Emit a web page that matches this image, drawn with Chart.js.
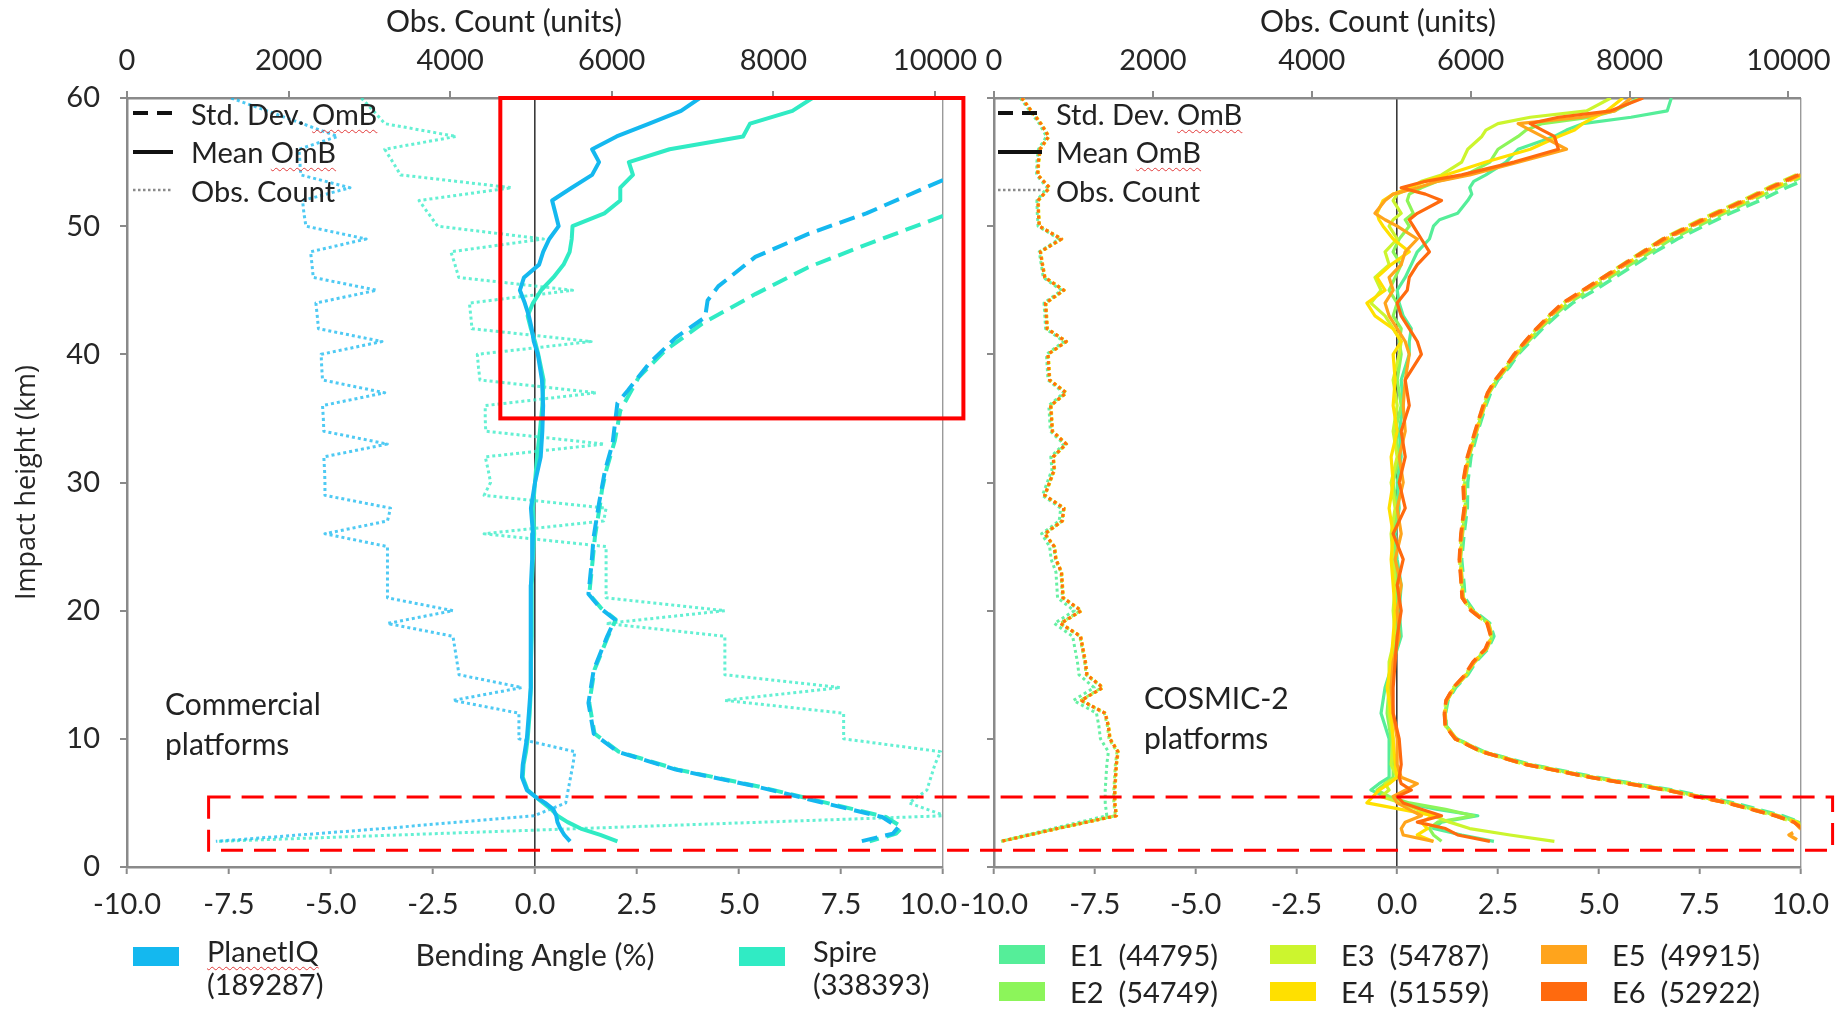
<!DOCTYPE html>
<html>
<head>
<meta charset="utf-8">
<title>Bending angle O-B statistics</title>
<script src="https://cdn.jsdelivr.net/npm/chart.js@4.4.1/dist/chart.umd.min.js"></script>
<style>
  html, body { margin: 0; padding: 0; background: #fff; }
  #wrap { position: relative; width: 1844px; height: 1014px; overflow: hidden; font-family: Lato, "Open Sans", sans-serif; color: #222; }
  #wrap canvas { position: absolute; left: 0; top: 0; }
  .ttl { position: absolute; top: 2px; font-size: 30px; line-height: 36px; transform: translateX(-50%); white-space: nowrap; }
  .note { position: absolute; font-size: 30px; line-height: 40px; white-space: nowrap; }
  .key { position: absolute; font-size: 29px; }
  .krow { display: flex; align-items: center; height: 38.5px; white-space: nowrap; }
  .krow svg { flex: none; }
  .sq { text-decoration: underline wavy #e23a3a; text-decoration-thickness: 1px; text-underline-offset: 4px; }
  .lg { position: absolute; font-size: 29px; line-height: 33px; white-space: pre; }
  .sw { position: absolute; width: 46px; height: 19px; }
</style>
</head>
<body>
<div id="wrap">
  <canvas id="left" width="1844" height="1014"></canvas>
  <canvas id="right" width="1844" height="1014"></canvas>

  <div class="ttl" style="left:504px">Obs. Count (units)</div>
  <div class="ttl" style="left:1378px">Obs. Count (units)</div>

  <div class="key" style="left:133px; top:94px">
    <div class="krow"><svg width="58" height="20"><line x1="0" y1="10" x2="40" y2="10" stroke="#111" stroke-width="4" stroke-dasharray="15 9"/></svg><span>Std. Dev. <span class="sq">OmB</span></span></div>
    <div class="krow"><svg width="58" height="20"><line x1="0" y1="10" x2="40" y2="10" stroke="#111" stroke-width="4"/></svg><span>Mean <span class="sq">OmB</span></span></div>
    <div class="krow"><svg width="58" height="20"><line x1="0" y1="10" x2="40" y2="10" stroke="#8a8a8a" stroke-width="2.5" stroke-dasharray="2.5 2.5"/></svg><span>Obs. Count</span></div>
  </div>
  <div class="key" style="left:998px; top:94px">
    <div class="krow"><svg width="58" height="20"><line x1="0" y1="10" x2="44" y2="10" stroke="#111" stroke-width="4" stroke-dasharray="15 9"/></svg><span>Std. Dev. <span class="sq">OmB</span></span></div>
    <div class="krow"><svg width="58" height="20"><line x1="0" y1="10" x2="44" y2="10" stroke="#111" stroke-width="4"/></svg><span>Mean <span class="sq">OmB</span></span></div>
    <div class="krow"><svg width="58" height="20"><line x1="0" y1="10" x2="44" y2="10" stroke="#8a8a8a" stroke-width="2.5" stroke-dasharray="2.5 2.5"/></svg><span>Obs. Count</span></div>
  </div>

  <div class="note" style="left:165px; top:683px">Commercial<br>platforms</div>
  <div class="note" style="left:1144px; top:677px">COSMIC-2<br>platforms</div>

  <div id="legend"></div>
</div>

<script>
// axis ticks
const heightTicks = [0, 10, 20, 30, 40, 50, 60];
const bendingTicks = [-10, -7.5, -5, -2.5, 0, 2.5, 5, 7.5, 10];
const countTicks = [0, 2000, 4000, 6000, 8000, 10000];

// legend entries
const commercialNames = ['PlanetIQ', 'Spire'];
const commercialTotals = [189287, 338393];
const expNames = ['E1', 'E2', 'E3', 'E4', 'E5', 'E6'];
const expTotals = [44795, 54749, 54787, 51559, 49915, 52922];

// obs. count per 1 km bin (both panels)
const countHeights = [60,59,58,57,56,55,54,53,52,51,50,49,48,47,46,45,44,43,42,41,40,39,38,37,36,35,34,33,32,31,30,29,28,27,26,25,24,23,22,21,20,19,18,17,16,15,14,13,12,11,10,9,8,7,6,5,4,3,2];
const countPlanetIQ = [1290,1730,2170,2605,2130,2140,2150,2760,2173,2190, 2215,2960,2272,2290,2305,3090,2338,2355,2370,3156, 2403,2410,2420,3190,2420,2430,2436,3222,2436,2445, 2450,2450,3262,3224,2450,3224,3224,3224,3224,3224, 4035,3224,4035,4060,4085,4110,4888,4035,4851,4851, 4851,5544,5520,5490,5460,5430,5040,3170,1100];
const countSpire = [2900,3050,3190,4075,3190,3290,3386,4761,3615,3730, 3844,5154,4009,4060,4106,5515,4238,4255,4270,5745, 4336,4350,4369,5810,4434,4434,4440,5908,4434,4470, 4500,4420,5930,5900,4420,5930,5930,5930,5930,5930, 7400,5930,7400,7400,7400,7400,8830,7400,8870,8870, 8870,10070,10000,9950,9900,9680,10130,5600,1120];

const countE1 = [330,450,570,660,560,540,535,670,540,545, 555,820,570,595,620,850,630,640,650,880, 660,670,680,880,690,700,710,880,715,730, 670,610,840,820,600,700,720,780,790,800, 1010,760,990,1020,1050,1070,1260,1000,1290,1320, 1340,1440,1420,1410,1400,1400,1420,740,80];
const countE2 = [345,465,585,685,575,555,548,695,552,558, 568,845,582,606,636,875,646,656,666,905, 676,686,696,905,710,720,730,905,740,755, 695,636,875,855,636,752,772,842,852,862, 1090,832,1080,1110,1140,1160,1358,1090,1388,1428, 1448,1548,1528,1518,1508,1508,1528,790,88];
const countE3 = [355,475,595,695,585,565,555,705,560,565, 575,855,590,615,645,885,655,665,675,915, 685,695,705,915,720,730,740,915,750,765, 705,645,885,865,645,765,785,855,865,875, 1105,845,1095,1125,1155,1175,1375,1105,1405,1445, 1465,1565,1545,1535,1525,1525,1545,805,92];
const countE4 = [352,472,592,692,582,562,552,702,557,562, 572,852,587,612,642,882,652,662,672,912, 682,692,702,912,717,727,737,912,747,762, 702,642,882,862,642,762,782,852,862,872, 1102,842,1092,1122,1152,1172,1372,1102,1402,1442, 1462,1562,1542,1532,1522,1522,1542,802,90];
const countE5 = [350,470,590,690,580,560,550,700,555,560, 570,850,585,610,640,880,650,660,670,910, 680,690,700,910,715,725,735,910,745,760, 700,640,880,860,640,760,780,850,860,870, 1100,840,1090,1120,1150,1170,1370,1100,1400,1440, 1460,1560,1540,1530,1520,1520,1540,800,90];
const countE6 = [348,468,588,688,578,558,549,698,553,559, 569,848,583,608,638,878,648,658,668,908, 678,688,698,908,713,723,733,908,743,758, 698,638,878,858,638,758,778,848,858,868, 1098,838,1088,1118,1148,1168,1368,1098,1398,1438, 1458,1558,1538,1528,1518,1518,1538,798,89];

// commercial mean OmB (%)
const meanHeightsL = [60,59,58,57,56,55,54,53,52,51,50,49,48,47,46,45,44,43,42,41,40,38,36,34,32,30,28,26,24,22,20,18,16,14,12,10,9,8,7,6,5.5,5,4.5,4,3.5,3,2.5,2];
const meanPlanetIQ = [4.04,3.58,2.8,2.0,1.4,1.57,1.4,0.9,0.42,0.5,0.58,0.35,0.2,0.1,-0.27,-0.37,-0.25,-0.15,-0.08,-0.03,0.07, 0.17,0.2,0.18,0.14,0.0,-0.1,-0.05,-0.07,-0.1,-0.1,-0.1,-0.1,-0.12,-0.15,-0.2, -0.25,-0.3,-0.32,-0.2, 0.0,0.25,0.45,0.52,0.55,0.62,0.72,0.86];
const meanSpire = [6.8,6.31,5.27,5.1,3.3,2.3,2.4,2.09,2.09,1.7,0.92,0.9,0.85,0.7,0.45,0.15,-0.05,-0.18,-0.1,0.0,0.08, 0.21,0.18,0.12,0.05,0.0,-0.05,-0.02,-0.05,-0.08,-0.08,-0.08,-0.1,-0.1,-0.13,-0.18, -0.22,-0.28,-0.3,-0.18, 0.0,0.2,0.4,0.55,0.8,1.12,1.6,2.02];

// commercial std. dev. OmB (%)
const stdHeightsPlanetIQ = [53.6,51,49.4,47.6,45.3,44.2,42.9,41.3,39.3,37.2,36.2,34.6,33,31,28.4,25.8,23.5,21.3,20.2,19.3,18,15.4,12.8,10.4,9,7.6,6.3,5,3.9,3.1,2.6,2];
const stdPlanetIQ = [10.0,8.12,6.7,5.4,4.49,4.23,4.17,3.45,2.8,2.28,2.02,1.96,1.9,1.72,1.57,1.44,1.38,1.31,1.6,1.96,1.77,1.44,1.31,1.44,2.02,3.45,5.4,7.08,8.51,8.9,8.77,7.99];
const stdHeightsSpire = [50.8,48.4,46.8,44.7,42.4,40.3,38.2,35.6,33.3,31,29.4,28.4,25.8,23.5,21.3,20.2,19.3,18,15.4,12.8,10.4,9,7.6,6.3,5,3.9,3.1,2.6,2];
const stdSpire = [10.0,7.99,6.7,5.4,4.1,3.19,2.54,2.09,1.96,1.75,1.64,1.6,1.47,1.4,1.33,1.62,1.98,1.79,1.46,1.33,1.46,2.05,3.5,5.45,7.15,8.6,9.0,8.85,8.2];

// COSMIC-2 mean OmB (%)
const meanHeightsE = [60,59,58.5,58,57.5,57,56,55,54,53.5,53,52.5,52,51,50.5,50,49,48,47,46,45,44,43,42,41, 40,38,36,34,32,30,28,26,24,22,20,18,16,14,12,10,8, 7,6.5,6,5.5,5,4.5,4,3.5,3,2.5,2];
const meanE1 = [6.8,6.7,5.8,4.6,4.2,3.9,3.0,2.7,2.2,1.9,1.8,1.85,1.75,1.5,1.05,0.9,0.8,0.5,0.35,0.2,0.0,0.05,0.15,0.35,0.3, 0.3,0.1,0.15,0.05,0.1,0.0,0.05,-0.05,0.0,0.1,0.05,0.1,-0.1,-0.3,-0.4,-0.2,-0.2, -0.2,-0.45,-0.65,-0.3,0.2,1.0,2.0,1.1,0.9,1.6,2.4];
const meanE2 = [6.0,5.4,4.8,3.6,3.2,3.0,2.5,2.3,1.7,1.0,0.6,0.3,0.25,0.4,0.2,0.3,0.05,-0.1,0.1,-0.05,-0.2,0.0,-0.1,0.1,0.05, 0.1,0.0,0.1,-0.05,0.05,-0.1,0.0,-0.1,-0.05,0.0,-0.05,0.0,-0.15,-0.2,-0.25,-0.15,-0.1, -0.1,-0.3,-0.5,-0.2,0.3,1.2,1.9,1.0,0.8,0.9,1.1];
const meanE3 = [5.3,4.7,3.3,2.5,2.2,2.1,1.75,1.6,1.1,0.6,0.35,0.0,-0.1,0.1,-0.1,-0.2,0.0,-0.3,-0.2,-0.55,-0.4,-0.65,-0.3,-0.1,0.1, 0.05,-0.1,0.0,-0.1,0.0,-0.15,-0.05,-0.15,-0.1,-0.05,-0.1,-0.05,-0.2,-0.2,-0.2,-0.1,-0.15, 0.0,-0.3,-0.2,-0.4,0.1,0.5,0.9,1.3,1.8,2.8,3.9];
const meanE4 = [5.6,5.2,4.9,4.6,4.4,4.0,3.3,2.2,1.2,0.7,0.3,-0.1,-0.35,-0.5,-0.45,-0.35,-0.1,0.3,-0.15,-0.5,-0.3,-0.75,-0.55,-0.1,0.1, -0.1,-0.05,-0.1,0.0,-0.15,-0.1,-0.2,-0.1,-0.15,-0.1,-0.05,-0.1,-0.15,-0.25,-0.15,-0.1,-0.05, 0.0,-0.2,-0.45,-0.6,-0.75,0.1,0.9,0.6,0.75,0.5,0.9];
const meanE5 = [5.8,5.4,4.6,3.0,3.3,3.6,4.2,3.0,1.8,1.0,0.5,-0.1,-0.3,-0.55,-0.3,0.0,0.5,0.2,0.1,-0.2,-0.1,-0.3,-0.2,0.0,0.2, 0.3,0.2,0.15,0.2,0.05,0.15,0.0,0.1,-0.05,0.1,0.0,0.05,-0.1,-0.15,-0.1,0.0,0.0, 0.1,0.5,0.2,-0.1,0.0,0.3,0.6,0.2,0.1,0.15,0.9];
const meanE6 = [6.1,5.3,4.0,3.3,3.6,3.9,4.0,2.9,1.6,0.7,0.1,0.7,1.1,0.5,0.3,0.4,0.6,0.8,0.5,0.3,0.25,0.0,0.1,0.3,0.5, 0.6,0.2,0.3,0.1,0.2,0.05,0.2,-0.1,0.15,0.0,0.1,0.0,-0.05,-0.1,-0.1,0.05,0.1, 0.05,0.1,0.35,0.0,0.15,0.6,1.1,0.5,1.2,1.5,2.3];

// COSMIC-2 std. dev. OmB (%)
const stdHeightsE = [54,53,52,51,50,49,48,47,46,45,44,43,42,41,40,39,38,37,36,34,32,30,28,26,24,22,21,20,19,18,17,16,15,14,13,12,11,10,9,8,7,6,5,4,3.5,3,2.5,2];
const stdE1 = [10.4,9.65,9.0,8.25,7.6,6.95,6.4,5.9,5.4,4.9,4.35,3.95,3.6,3.3,3.0,2.78,2.5,2.32,2.2,2.0,1.83,1.75,1.74,1.66,1.6,1.66,1.68,1.9,2.3,2.4,2.25,1.95,1.75,1.45,1.26,1.2,1.22,1.48,2.15,3.3,4.95,6.85,8.35,9.55,10.0,10.3,null,null];
const stdE2 = [10.15,9.45,8.8,8.1,7.45,6.8,6.3,5.78,5.27,4.76,4.25,3.88,3.54,3.25,2.97,2.74,2.48,2.28,2.17,1.97,1.78,1.68,1.7,1.62,1.57,1.62,1.64,1.87,2.27,2.36,2.22,1.92,1.72,1.42,1.24,1.19,1.21,1.47,2.12,3.25,4.85,6.75,8.25,9.45,9.95,10.2,null,null];
const stdE3 = [9.9,9.2,8.55,7.85,7.2,6.58,6.08,5.58,5.1,4.62,4.12,3.77,3.46,3.18,2.92,2.69,2.44,2.25,2.14,1.94,1.75,1.64,1.67,1.59,1.55,1.6,1.62,1.84,2.24,2.33,2.19,1.9,1.7,1.4,1.22,1.17,1.2,1.44,2.08,3.18,4.78,6.68,8.18,9.38,9.84,10.1,null,null];
const stdE4 = [10.05,9.35,8.68,7.98,7.32,6.68,6.17,5.66,5.16,4.66,4.16,3.81,3.49,3.21,2.94,2.71,2.46,2.27,2.16,1.96,1.77,1.66,1.68,1.6,1.56,1.61,1.63,1.86,2.26,2.35,2.21,1.91,1.71,1.41,1.23,1.18,1.21,1.46,2.11,3.22,4.82,6.72,8.22,9.42,9.9,10.15,null,null];
const stdE5 = [10.0,9.3,8.65,7.95,7.3,6.65,6.15,5.65,5.15,4.65,4.15,3.8,3.48,3.2,2.93,2.7,2.45,2.26,2.15,1.95,1.76,1.65,1.68,1.6,1.55,1.6,1.62,1.85,2.25,2.34,2.2,1.9,1.7,1.4,1.22,1.18,1.2,1.45,2.1,3.2,4.8,6.7,8.2,9.4,9.85,10.0,9.72,9.98];
const stdE6 = [9.95,9.25,8.6,7.9,7.25,6.6,6.1,5.6,5.1,4.6,4.1,3.76,3.45,3.17,2.9,2.68,2.43,2.24,2.13,1.93,1.74,1.63,1.66,1.58,1.54,1.59,1.61,1.83,2.23,2.32,2.18,1.88,1.68,1.39,1.21,1.17,1.19,1.44,2.09,3.19,4.78,6.68,8.18,9.38,9.84,10.05,null,null];

// colours
const piqColor = '#14B8EF';
const spireColor = '#30EBC4';
const expColors = ['#55EE99', '#8CF55A', '#CCF52E', '#FFE000', '#FFA41C', '#FF6A0E'];

const textColor = '#262626';
const axisGray = '#8a8a8a';
const tickFont = { family: 'Lato', size: 29 };

Chart.defaults.font.family = 'Lato';

function profile(heights, values) {
  const pts = [];
  heights.forEach((h, i) => {
    if (values[i] !== null) pts.push({ x: values[i], y: h });
  });
  return pts;
}

// lighter version of a line colour for the dotted count curves
function faded(hex, a) {
  const n = parseInt(hex.slice(1), 16);
  return 'rgba(' + (n >> 16) + ',' + ((n >> 8) & 255) + ',' + (n & 255) + ',' + a + ')';
}

function series(points, color, kind, order, thin) {
  const ds = {
    data: points,
    showLine: true,
    borderColor: color,
    backgroundColor: color,
    pointRadius: 0,
    pointHoverRadius: 0,
    tension: 0,
    fill: false,
    order: order,
    xAxisID: 'x',
    borderJoinStyle: 'round'
  };
  if (kind === 'mean') {
    ds.borderWidth = thin ? 3.2 : 4;
  } else if (kind === 'std') {
    ds.borderWidth = thin ? 3.5 : 4;
    ds.borderDash = thin ? [14, 7] : [16, 8];
  } else {
    ds.borderWidth = 3;
    ds.borderDash = [3, 3];
    ds.borderColor = faded(color, thin ? 0.9 : 0.75);
    ds.xAxisID = 'x2';
  }
  return ds;
}

function bendingAxis(withTitle) {
  return {
    type: 'linear',
    position: 'bottom',
    min: -10,
    max: 10,
    afterBuildTicks: s => { s.ticks = bendingTicks.map(v => ({ value: v })); },
    afterFit: s => { s.height = 147; },
    border: { color: axisGray, width: 2.5 },
    grid: {
      drawOnChartArea: true,
      color: c => c.tick && c.tick.value === 0 ? '#3a3a3a' : (c.tick && c.tick.value === 10 ? '#9a9a9a' : 'rgba(0,0,0,0)'),
      lineWidth: c => c.tick && c.tick.value === 0 ? 1.6 : 1.4,
      tickColor: axisGray,
      tickWidth: 2,
      tickLength: 7
    },
    ticks: {
      padding: 13,
      color: textColor,
      font: tickFont,
      autoSkip: false,
      maxRotation: 0,
      // the left panel's last label is nudged left so it reads "10.0-10.0" at the join
      callback: v => (withTitle && v === 10) ? '10.0\u2002\u2002' : Number(v).toFixed(1)
    },
    title: {
      display: withTitle,
      text: 'Bending Angle (%)',
      color: textColor,
      font: { family: 'Lato', size: 30 },
      padding: { top: 0, bottom: 40 }
    }
  };
}

function countAxis(max) {
  return {
    type: 'linear',
    axis: 'x',
    position: 'top',
    min: 0,
    max: max,
    afterBuildTicks: s => { s.ticks = countTicks.map(v => ({ value: v })); },
    afterFit: s => { s.height = 98; },
    border: { color: axisGray, width: 2.5 },
    grid: { drawOnChartArea: false, color: axisGray, lineWidth: 2, tickLength: 7 },
    ticks: {
      padding: 13,
      color: textColor,
      font: tickFont,
      autoSkip: false,
      maxRotation: 0,
      callback: v => String(v)
    }
  };
}

function heightAxis(withLabels, width) {
  return {
    type: 'linear',
    position: 'left',
    min: 0,
    max: 60,
    afterBuildTicks: s => { s.ticks = heightTicks.map(v => ({ value: v })); },
    afterFit: s => { s.width = width; },
    border: { color: axisGray, width: 2.5 },
    grid: { drawOnChartArea: false, color: axisGray, lineWidth: 2, tickLength: 7 },
    ticks: {
      padding: 20,
      color: textColor,
      font: tickFont,
      callback: v => withLabels ? String(v) : ''
    },
    title: {
      display: withLabels,
      text: 'Impact height (km)',
      color: textColor,
      font: { family: 'Open Sans', size: 27 },
      padding: { top: 11, bottom: 0 }
    }
  };
}

const baseOptions = {
  responsive: false,
  animation: false,
  events: [],
  plugins: { legend: { display: false }, tooltip: { enabled: false } }
};

// ---- left panel: commercial platforms ----
const leftSets = [
  series(profile(meanHeightsL, meanPlanetIQ), piqColor, 'mean', 1),
  series(profile(meanHeightsL, meanSpire), spireColor, 'mean', 2),
  series(profile(stdHeightsPlanetIQ, stdPlanetIQ), piqColor, 'std', 3),
  series(profile(stdHeightsSpire, stdSpire), spireColor, 'std', 4),
  series(profile(countHeights, countPlanetIQ), piqColor, 'count', 5),
  series(profile(countHeights, countSpire), spireColor, 'count', 6)
];

const zoomBox = {
  id: 'zoomBox',
  afterDraw(c) {
    const { ctx, scales: { x, y } } = c;
    const l = x.getPixelForValue(-0.85), r = x.getPixelForValue(10.5);
    const t = y.getPixelForValue(60), b = y.getPixelForValue(35);
    ctx.save();
    ctx.strokeStyle = '#ff0000';
    ctx.lineWidth = 4;
    ctx.strokeRect(l, t, r - l, b - t);
    ctx.restore();
  }
};

const leftChart = new Chart(document.getElementById('left'), {
  type: 'scatter',
  data: { datasets: leftSets },
  options: Object.assign({}, baseOptions, {
    layout: { padding: { left: 0, right: 901, top: 0, bottom: 0 } },
    scales: {
      x: bendingAxis(true),
      x2: countAxis(10100),
      y: heightAxis(true, 127)
    }
  }),
  plugins: [zoomBox]
});

// ---- right panel: COSMIC-2 experiments ----
const expMeans = [meanE1, meanE2, meanE3, meanE4, meanE5, meanE6];
const expStds = [stdE1, stdE2, stdE3, stdE4, stdE5, stdE6];
const expCounts = [countE1, countE2, countE3, countE4, countE5, countE6];

const rightSets = [];
expNames.forEach((name, i) => {
  rightSets.push(series(profile(meanHeightsE, expMeans[i]), expColors[i], 'mean', 6 - i, true));
  rightSets.push(series(profile(stdHeightsE, expStds[i]), expColors[i], 'std', 16 - i, true));
  rightSets.push(series(profile(countHeights, expCounts[i]), expColors[i], 'count', 26 - i, true));
});

// dashed box across both panels over the lowest kilometres
const lowBox = {
  id: 'lowBox',
  afterDraw(c) {
    const { ctx, scales: { x, y } } = c;
    const l = leftChart.scales.x.getPixelForValue(-8);
    const r = x.getPixelForValue(10.8);
    const t = y.getPixelForValue(5.47), b = y.getPixelForValue(1.3);
    ctx.save();
    ctx.strokeStyle = '#ff0000';
    ctx.lineWidth = 3;
    ctx.setLineDash([22, 11]);
    ctx.strokeRect(l, t, r - l, b - t);
    ctx.restore();
  }
};

const rightChart = new Chart(document.getElementById('right'), {
  type: 'scatter',
  data: { datasets: rightSets },
  options: Object.assign({}, baseOptions, {
    layout: { padding: { left: 960, right: 36, top: 0, bottom: 0 } },
    scales: {
      x: bendingAxis(false),
      x2: countAxis(10150),
      y: heightAxis(false, 34)
    }
  }),
  plugins: [lowBox]
});

// ---- legends under the panels ----
const legend = document.getElementById('legend');
function addSwatch(left, top, color) {
  const d = document.createElement('div');
  d.className = 'sw';
  d.style.left = left + 'px';
  d.style.top = top + 'px';
  d.style.background = color;
  legend.appendChild(d);
}
function addText(left, top, html) {
  const d = document.createElement('div');
  d.className = 'lg';
  d.style.left = left + 'px';
  d.style.top = top + 'px';
  d.innerHTML = html;
  legend.appendChild(d);
}

const commercialColors = [piqColor, spireColor];
const commercialLeft = [133, 739];
commercialNames.forEach((name, i) => {
  addSwatch(commercialLeft[i], 947, commercialColors[i]);
  const label = name === 'PlanetIQ' ? '<span class="sq">' + name + '</span>' : name;
  addText(commercialLeft[i] + 74, 934, label + '\n(' + commercialTotals[i] + ')');
});

expNames.forEach((name, i) => {
  const col = Math.floor(i / 2), row = i % 2;
  const left = 999 + col * 271;
  addSwatch(left, 945 + row * 37, expColors[i]);
  addText(left + 71, 938 + row * 37, name + '  (' + expTotals[i] + ')');
});
</script>
</body>
</html>
